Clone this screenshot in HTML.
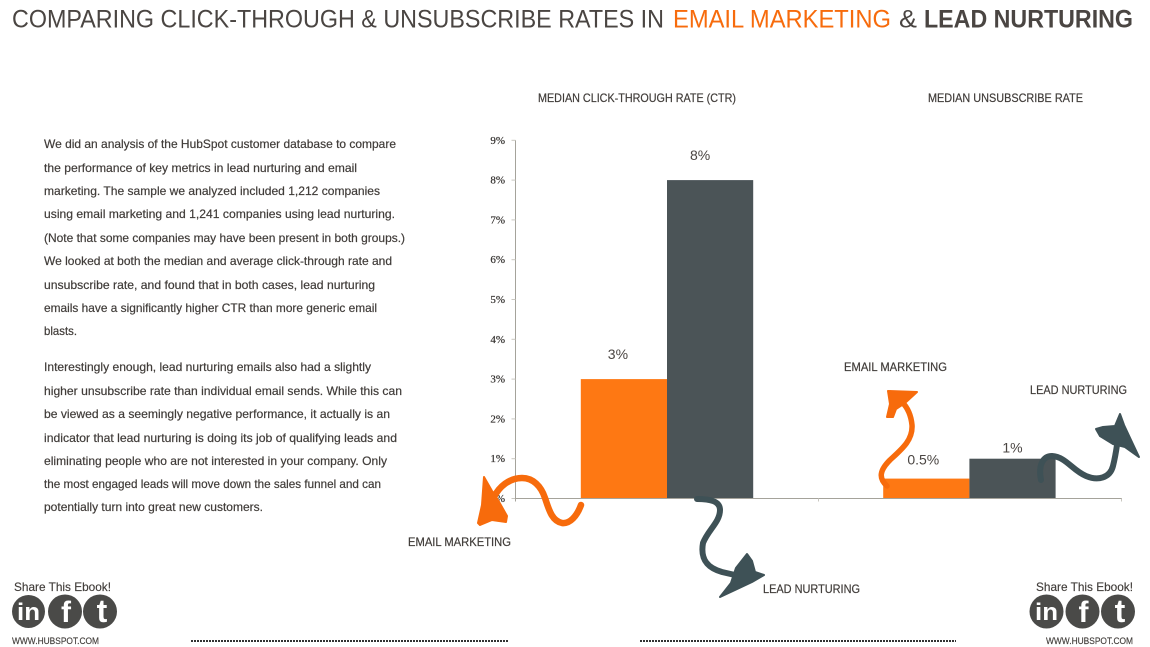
<!DOCTYPE html>
<html lang="en">
<head>
<meta charset="utf-8">
<title>Comparing Click-Through and Unsubscribe Rates</title>
<style>
html,body{margin:0;padding:0;background:#fff;width:1150px;height:647px;overflow:hidden}
svg{display:block;font-family:"Liberation Sans",sans-serif}
.body-line{font-size:12px;fill:#403c39;stroke:#403c39;stroke-width:.2px}
.label{font-size:12px;fill:#403c39;stroke:#403c39;stroke-width:.2px}
.tick-label{font-size:11px;fill:#33302e;stroke:#33302e;stroke-width:.2px;font-family:"Liberation Serif",serif;text-anchor:end}
.value{font-size:14px;fill:#4a4542;text-anchor:middle}
.glyph{fill:#fff;font-weight:bold;text-anchor:middle}
.footer-text{fill:#403c39;stroke:#403c39;stroke-width:.15px}
</style>
</head>
<body>
<svg id="page" xmlns="http://www.w3.org/2000/svg" width="1150" height="647" viewBox="0 0 1150 647">
  <g font-size="25">
    <text x="12" y="27.5" fill="#4a4542" textLength="652" lengthAdjust="spacingAndGlyphs">COMPARING CLICK-THROUGH &amp; UNSUBSCRIBE RATES IN</text>
    <text x="673" y="27.5" fill="#f76b0c" textLength="218" lengthAdjust="spacingAndGlyphs">EMAIL MARKETING</text>
    <text x="899" y="27.5" fill="#4a4542" textLength="18" lengthAdjust="spacingAndGlyphs">&amp;</text>
    <text x="924" y="27.5" fill="#4a4542" font-weight="bold" textLength="209" lengthAdjust="spacingAndGlyphs">LEAD NURTURING</text>
  </g>

  <text class="label" x="538" y="102" textLength="198" lengthAdjust="spacingAndGlyphs">MEDIAN CLICK-THROUGH RATE (CTR)</text>
  <text class="label" x="928" y="102" textLength="155" lengthAdjust="spacingAndGlyphs">MEDIAN UNSUBSCRIBE RATE</text>

  <g>
    <text class="body-line" x="44" y="148" textLength="352" lengthAdjust="spacingAndGlyphs">We did an analysis of the HubSpot customer database to compare</text>
    <text class="body-line" x="44" y="172" textLength="313" lengthAdjust="spacingAndGlyphs">the performance of key metrics in lead nurturing and email</text>
    <text class="body-line" x="44" y="195" textLength="336" lengthAdjust="spacingAndGlyphs">marketing. The sample we analyzed included 1,212 companies</text>
    <text class="body-line" x="44" y="218" textLength="351" lengthAdjust="spacingAndGlyphs">using email marketing and 1,241 companies using lead nurturing.</text>
    <text class="body-line" x="44" y="242" textLength="361" lengthAdjust="spacingAndGlyphs">(Note that some companies may have been present in both groups.)</text>
    <text class="body-line" x="44" y="265" textLength="348" lengthAdjust="spacingAndGlyphs">We looked at both the median and average click-through rate and</text>
    <text class="body-line" x="44" y="289" textLength="331" lengthAdjust="spacingAndGlyphs">unsubscribe rate, and found that in both cases, lead nurturing</text>
    <text class="body-line" x="44" y="312" textLength="333" lengthAdjust="spacingAndGlyphs">emails have a significantly higher CTR than more generic email</text>
    <text class="body-line" x="44" y="335" textLength="33" lengthAdjust="spacingAndGlyphs">blasts.</text>
    <text class="body-line" x="44" y="371" textLength="327" lengthAdjust="spacingAndGlyphs">Interestingly enough, lead nurturing emails also had a slightly</text>
    <text class="body-line" x="44" y="395" textLength="358" lengthAdjust="spacingAndGlyphs">higher unsubscribe rate than individual email sends. While this can</text>
    <text class="body-line" x="44" y="418" textLength="346" lengthAdjust="spacingAndGlyphs">be viewed as a seemingly negative performance, it actually is an</text>
    <text class="body-line" x="44" y="442" textLength="353" lengthAdjust="spacingAndGlyphs">indicator that lead nurturing is doing its job of qualifying leads and</text>
    <text class="body-line" x="44" y="465" textLength="343" lengthAdjust="spacingAndGlyphs">eliminating people who are not interested in your company. Only</text>
    <text class="body-line" x="44" y="488" textLength="337" lengthAdjust="spacingAndGlyphs">the most engaged leads will move down the sales funnel and can</text>
    <text class="body-line" x="44" y="511" textLength="219" lengthAdjust="spacingAndGlyphs">potentially turn into great new customers.</text>
  </g>

  <g id="chart"></g>

  <g id="annotations">
    <g>
      <path d="M581 505C577 516 570 524 562 523C552 521 549 510 545 498C541 486 533 478 522 478C509 478 499 487 494 497" fill="none" stroke="#f76b0c" stroke-width="6.5" stroke-linecap="round"/>
      <path d="M484 477L492 491L498 500L507 516L506 522L492 520L480 525L478 523L482 505Z" fill="#f76b0c" stroke="#f76b0c" stroke-width="2" stroke-linejoin="round"/>
    </g>
    <g>
      <path d="M697 499C710 499 720 501 720 510C720 522 708 530 703 543C700 560 708 568 722 572L735 575" fill="none" stroke="#3e5156" stroke-width="6" stroke-linecap="round"/>
      <path d="M747 554L752 561L755 572L764 575L752 582L735 590L720 597L731 583L736 568Z" fill="#3e5156" stroke="#3e5156" stroke-width="2" stroke-linejoin="round"/>
    </g>
    <g>
      <path d="M887 486C878 478 880 470 890 460C902 449 913 440 912 425C911 415 908 408 902 402" fill="none" stroke="#f76b0c" stroke-width="5.5" stroke-linecap="round"/>
      <path d="M888 391L917 392L905 403L896 409L893 417L887 417L890 404Z" fill="#f76b0c" stroke="#f76b0c" stroke-width="2" stroke-linejoin="round"/>
    </g>
    <g>
      <path d="M1041 480C1038 465 1043 456 1052 456C1066 457 1072 470 1086 476C1098 481 1110 478 1113 466C1115 458 1116 452 1117 445" fill="none" stroke="#3e5156" stroke-width="6" stroke-linecap="round"/>
      <path d="M1120 414L1124 425L1131 440L1139 457L1125 447L1113 444L1100 436L1096 429L1103 427L1115 426Z" fill="#3e5156" stroke="#3e5156" stroke-width="2" stroke-linejoin="round"/>
    </g>
    <text class="label" x="408" y="546" textLength="103" lengthAdjust="spacingAndGlyphs">EMAIL MARKETING</text>
    <text class="label" x="763" y="593" textLength="97" lengthAdjust="spacingAndGlyphs">LEAD NURTURING</text>
    <text class="label" x="844" y="371" textLength="103" lengthAdjust="spacingAndGlyphs">EMAIL MARKETING</text>
    <text class="label" x="1030" y="394" textLength="97" lengthAdjust="spacingAndGlyphs">LEAD NURTURING</text>
  </g>

  <g>
    <text class="footer-text" x="14" y="591" font-size="12" textLength="97" lengthAdjust="spacingAndGlyphs">Share This Ebook!</text>
    <g><circle cx="28.5" cy="611.5" r="16.5" fill="#4a4a48"/><text class="glyph" x="28.5" y="620" font-size="24" textLength="23" lengthAdjust="spacingAndGlyphs">in</text></g>
    <g><circle cx="65" cy="611.5" r="17" fill="#4a4a48"/><text class="glyph" x="66" y="622" font-size="30">f</text></g>
    <g><circle cx="100" cy="611.5" r="17" fill="#4a4a48"/><text class="glyph" x="102" y="622" font-size="32">t</text></g>
    <text class="footer-text" x="12" y="644" font-size="9.5" textLength="87" lengthAdjust="spacingAndGlyphs">WWW.HUBSPOT.COM</text>
  </g>

  <g>
    <text class="footer-text" x="1036" y="591" font-size="12" textLength="97" lengthAdjust="spacingAndGlyphs">Share This Ebook!</text>
    <g><circle cx="1046.5" cy="611.5" r="17" fill="#4a4a48"/><text class="glyph" x="1046.5" y="620" font-size="24" textLength="23" lengthAdjust="spacingAndGlyphs">in</text></g>
    <g><circle cx="1082.5" cy="611.5" r="17" fill="#4a4a48"/><text class="glyph" x="1083.5" y="622" font-size="30">f</text></g>
    <g><circle cx="1118" cy="611.5" r="17" fill="#4a4a48"/><text class="glyph" x="1120" y="622" font-size="32">t</text></g>
    <text class="footer-text" x="1046" y="644" font-size="9.5" textLength="87" lengthAdjust="spacingAndGlyphs">WWW.HUBSPOT.COM</text>
  </g>

  <line x1="191" y1="641" x2="508" y2="641" stroke="#333" stroke-width="2" stroke-dasharray="2 1"/>
  <line x1="640" y1="641" x2="956" y2="641" stroke="#333" stroke-width="2" stroke-dasharray="2 1"/>
</svg>

<script>
const categories = ['Email Marketing', 'Lead Nurturing'];
const ctrValues = [3, 8];
const ctrLabels = ['3%', '8%'];
const unsubscribeValues = [0.5, 1];
const unsubscribeLabels = ['0.5%', '1%'];
const tickValues = [0, 1, 2, 3, 4, 5, 6, 7, 8, 9];
const tickLabels = ['0%', '1%', '2%', '3%', '4%', '5%', '6%', '7%', '8%', '9%'];
const seriesColors = ['#fe7813', '#4b5457'];

const NS = 'http://www.w3.org/2000/svg';
const chart = document.getElementById('chart');
const baseY = 498.5;
const unitHeight = 39.8;
const barWidth = 86.2;
const yScale = function (v) { return baseY - v * unitHeight; };

function make(tag, attrs, text) {
  const el = document.createElementNS(NS, tag);
  Object.keys(attrs).forEach(function (k) { el.setAttribute(k, attrs[k]); });
  if (text !== undefined) { el.textContent = text; }
  chart.appendChild(el);
  return el;
}

function drawBars(values, labels, startX, prefix, labelGap, labelShift) {
  values.forEach(function (v, i) {
    const x = startX + i * barWidth;
    const top = yScale(v);
    const bar = make('rect', { x: x, y: top, width: barWidth, height: baseY - top, fill: seriesColors[i] });
    
    
    const value = make('text', { class: 'value', x: x + barWidth / 2 + labelShift[i], y: top - labelGap[i] }, labels[i]);
    
    
  });
}

const axisY = make('line', { x1: 515.5, y1: yScale(9), x2: 515.5, y2: baseY + 3, stroke: '#a5a39b', 'stroke-width': 1 });



tickValues.forEach(function (v, i) {
  const y = yScale(v);
  const tick = make('line', { x1: 511.5, y1: y, x2: 515.5, y2: y, stroke: '#c9c7c0', 'stroke-width': 1 });
  
  
  const label = make('text', { class: 'tick-label', x: 505, y: y + 3.5 }, tickLabels[i]);
  
  
});

drawBars(ctrValues, ctrLabels, 580.8, 'ctr', [20, 20], [-6, -10]);
drawBars(unsubscribeValues, unsubscribeLabels, 883.2, 'unsubscribe', [14, 6], [-3, 0]);

const axisX = make('line', { x1: 515, y1: baseY, x2: 1122, y2: baseY, stroke: '#a5a39b', 'stroke-width': 1 });



const chartDivider = make('line', { x1: 818.5, y1: baseY, x2: 818.5, y2: baseY + 3, stroke: '#c9c7c0', 'stroke-width': 1 });



const chartEnd = make('line', { x1: 1121.5, y1: baseY, x2: 1121.5, y2: baseY + 3, stroke: '#c9c7c0', 'stroke-width': 1 });


</script>
</body>
</html>
